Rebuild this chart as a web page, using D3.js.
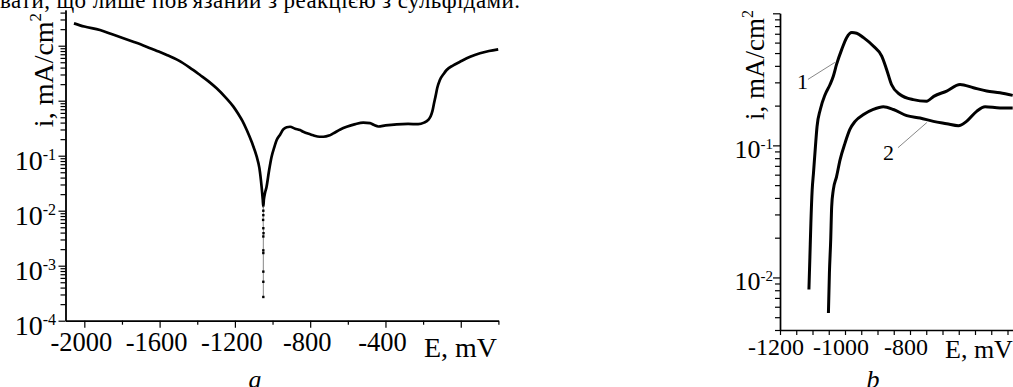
<!DOCTYPE html>
<html>
<head>
<meta charset="utf-8">
<script src="https://cdn.jsdelivr.net/npm/d3@7/dist/d3.min.js"></script>
<style>
  html, body { margin: 0; padding: 0; background: #fff; }
  svg { display: block; }
  text { font-family: "Liberation Serif", "DejaVu Serif", serif; fill: #000; }
</style>
</head>
<body>
<svg id="chart" width="1013" height="387"></svg>
<script>
// Panel a: polarization curve, potential E (mV) vs current density i (mA/cm2)
const curveA_E = [-2055, -2000, -1917, -1860, -1800, -1740, -1680, -1620, -1562, -1500, -1440, -1385, -1340, -1297,
  -1250, -1208, -1180, -1160, -1137, -1110, -1084, -1070, -1058, -1052, -1049, -1046, -1040, -1032, -1018, -1005,
  -990, -978, -960, -943, -925, -907, -880, -854, -837, -800, -784, -750, -730, -700, -677, -640, -606, -560, -518,
  -482, -460, -438, -400, -340, -280, -226, -195, -173, -160, -150, -142, -134, -125, -111, -90, -75, -40, -4, 50, 102, 150, 199];
const curveA_i = [25.5, 22.3, 19.3, 16.5, 14.0, 11.8, 9.9, 8.2, 6.8, 5.4, 4.0, 2.93, 2.25, 1.68,
  1.15, 0.78, 0.56, 0.43, 0.293, 0.175, 0.096, 0.06, 0.027, 0.016, 0.012, 0.016, 0.021, 0.027, 0.055, 0.096,
  0.145, 0.193, 0.24, 0.3, 0.33, 0.336, 0.31, 0.293, 0.273, 0.245, 0.235, 0.221, 0.221, 0.232, 0.255, 0.3, 0.336, 0.375, 0.398,
  0.39, 0.36, 0.34, 0.355, 0.372, 0.378, 0.375, 0.40, 0.446, 0.52, 0.66, 0.9, 1.2, 1.7, 2.38, 3.1, 3.62, 4.4, 5.11, 6.3, 7.28, 8.0, 8.6];
// sparse points measured near the corrosion potential
const dipA_E = [-1049, -1049, -1050, -1049, -1048, -1049, -1049, -1049, -1049, -1049, -1049];
const dipA_i = [0.0100, 0.0083, 0.0068, 0.0048, 0.0039, 0.0034, 0.0019, 0.0017, 7.8e-4, 5.1e-4, 2.7e-4];

// Panel b: curves 1 and 2
const curveB1_E = [-1111, -1108, -1105, -1101, -1097, -1091, -1086, -1076, -1061, -1046, -1036, -1026, -1010, -995,
  -979, -964, -943, -913, -887, -872, -857, -831, -790, -749, -727, -687, -646, -605, -564, -523, -484];
const curveB1_i = [0.0081, 0.0143, 0.0257, 0.046, 0.0617, 0.098, 0.139, 0.187, 0.243, 0.289, 0.334, 0.41, 0.533, 0.654,
  0.714, 0.706, 0.654, 0.565, 0.474, 0.376, 0.289, 0.243, 0.222, 0.216, 0.235, 0.258, 0.289, 0.273, 0.258, 0.25, 0.239];
const curveB2_E = [-1051, -1048, -1044, -1041, -1036, -1026, -1015, -1000, -985, -969, -943, -913, -882, -851,
  -810, -769, -728, -687, -651, -626, -595, -569, -523, -484];
const curveB2_i = [0.00538, 0.0107, 0.0192, 0.0344, 0.046, 0.058, 0.078, 0.104, 0.132, 0.152, 0.171, 0.187, 0.196, 0.187,
  0.168, 0.161, 0.152, 0.146, 0.141, 0.152, 0.181, 0.196, 0.192, 0.192];

// tick labels
const xTicksA = [-2000, -1600, -1200, -800, -400];
const yLabelsA = [1e-1, 1e-2, 1e-3, 1e-4];
const xTicksB = [-1200, -1000, -800];
const yLabelsB = [1e-1, 1e-2];

// curve labels in panel b: [label, textE, textI, lineE0, lineI0, lineE1, lineI1]
const curveLabelsB = [
  ["1", -1114, 0.265, -1114, 0.316, -1031, 0.425],
  ["2", -883, 0.078, -837, 0.096, -748, 0.149]
];

const svg = d3.select("#chart");
svg.append("rect").attr("width", 1013).attr("height", 387).attr("fill", "#fff");

// text line running above the figure
svg.append("text")
  .attr("x", 0).attr("y", 8)
  .attr("font-size", 23)
  .attr("textLength", 520)
  .text("вати, що лише пов'язаний з реакцією з сульфідами.");

function decadeMinors(lo, hi) {
  const out = [];
  for (let e = Math.floor(Math.log10(lo)); e <= Math.ceil(Math.log10(hi)); e++) {
    for (let m = 2; m <= 9; m++) {
      const v = m * Math.pow(10, e);
      if (v >= lo && v <= hi) out.push(v);
    }
  }
  return out;
}
function decades(lo, hi) {
  const out = [];
  for (let e = Math.ceil(Math.log10(lo) - 1e-9); e <= Math.floor(Math.log10(hi) + 1e-9); e++) out.push(Math.pow(10, e));
  return out;
}
function styleAxis(g) {
  g.selectAll("path.domain").attr("stroke", "#000").attr("stroke-width", 1.4);
  g.selectAll(".tick line").attr("stroke", "#000").attr("stroke-width", 1.2);
}
// power-of-ten tick labels: "10" with a raised exponent
function powLabel(g, scale, values, xEnd, size, supSize, dyBase, supRise) {
  values.forEach(v => {
    const t = g.append("text")
      .attr("x", xEnd).attr("y", scale(v) + dyBase)
      .attr("text-anchor", "end")
      .attr("font-size", size);
    t.append("tspan").text("10");
    t.append("tspan").attr("font-size", supSize).attr("dy", -supRise).text(String(Math.round(Math.log10(v))));
  });
}

// ---------- panel a ----------
const xA = d3.scaleLinear().domain([-2100, 200]).range([65.5, 498.4]);
const yA = d3.scaleLog().domain([1e-4, 44.6]).range([320.7, 10]);
const gA = svg.append("g");

const yAminor = gA.append("g").attr("transform", `translate(${xA(-2100)},0)`)
  .call(d3.axisLeft(yA).tickValues(decadeMinors(1e-4, 44.6)).tickSize(5).tickSizeOuter(0).tickFormat(""));
styleAxis(yAminor);
const yAmajor = gA.append("g").attr("transform", `translate(${xA(-2100)},0)`)
  .call(d3.axisLeft(yA).tickValues(decades(1e-4, 44.6)).tickSize(7).tickSizeOuter(0).tickFormat(""));
styleAxis(yAmajor);
powLabel(gA, yA, yLabelsA, 56, 28, 16, 14, 10);

const xAminor = gA.append("g").attr("transform", `translate(0,${yA(1e-4)})`)
  .call(d3.axisBottom(xA).tickValues(d3.range(-1800, 201, 400)).tickSize(4).tickSizeOuter(0).tickFormat(""));
styleAxis(xAminor);
const xAmajor = gA.append("g").attr("transform", `translate(0,${yA(1e-4)})`)
  .call(d3.axisBottom(xA).tickValues(d3.range(-2000, 1, 400)).tickSize(7).tickSizeOuter(0).tickFormat(""));
styleAxis(xAmajor);
xTicksA.forEach(v => {
  gA.append("text").attr("x", xA(v) - 3).attr("y", yA(1e-4) + 30)
    .attr("text-anchor", "middle").attr("font-size", 26.5).text(String(v));
});
gA.append("text").attr("x", 497).attr("y", 356.5).attr("text-anchor", "end")
  .attr("font-size", 28).text("E, mV");
gA.append("text").attr("transform", `translate(53,70) rotate(-90)`)
  .attr("text-anchor", "middle").attr("font-size", 28)
  .call(t => { t.append("tspan").text("i, mA/cm"); t.append("tspan").attr("font-size", 17).attr("dy", -12).text("2"); });

const lineA = d3.line().x(d => xA(d[0])).y(d => yA(d[1])).curve(d3.curveMonotoneX);
const ptsA = curveA_E.map((e, k) => [e, curveA_i[k]]);
gA.append("path").attr("d", lineA(ptsA)).attr("fill", "none").attr("stroke", "#000")
  .attr("stroke-width", 2.7).attr("stroke-linejoin", "round");
const dipPts = dipA_E.map((e, k) => [e, dipA_i[k]]);
gA.append("path").attr("d", d3.line().x(d => xA(d[0])).y(d => yA(d[1]))([[ -1049, 0.012 ], ...dipPts]))
  .attr("fill", "none").attr("stroke", "#777").attr("stroke-width", 0.9);
gA.selectAll("rect.dip").data(dipPts).join("rect").attr("class", "dip")
  .attr("x", d => xA(d[0]) - 1.2).attr("y", d => yA(d[1]) - 1.2)
  .attr("width", 2.4).attr("height", 2.4).attr("fill", "#000");
gA.append("text").attr("x", 255).attr("y", 388).attr("text-anchor", "middle")
  .attr("font-size", 26).attr("font-style", "italic").text("a");

// ---------- panel b ----------
const xB = d3.scaleLinear().domain([-1200, -400]).range([780, 1040]);
const yB = d3.scaleLog().domain([0.004, 1]).range([330, 13.3]);
const gB = svg.append("g");

const yBminor = gB.append("g").attr("transform", `translate(${xB(-1200)},0)`)
  .call(d3.axisLeft(yB).tickValues(decadeMinors(0.004, 1)).tickSize(5).tickSizeOuter(0).tickFormat(""));
styleAxis(yBminor);
const yBmajor = gB.append("g").attr("transform", `translate(${xB(-1200)},0)`)
  .call(d3.axisLeft(yB).tickValues(decades(0.004, 1)).tickSize(7).tickSizeOuter(0).tickFormat(""));
styleAxis(yBmajor);
powLabel(gB, yB, yLabelsB, 773, 26, 15, 13, 9);

const xBax = gB.append("g").attr("transform", `translate(0,${yB(0.004)})`)
  .call(d3.axisBottom(xB).tickValues(d3.range(-1200, -399, 50)).tickSize(5).tickSizeOuter(0).tickFormat(""));
styleAxis(xBax);
xTicksB.forEach(v => {
  gB.append("text").attr("x", xB(v) - 4).attr("y", yB(0.004) + 25)
    .attr("text-anchor", "middle").attr("font-size", 24).text(String(v));
});
gB.append("text").attr("x", 945).attr("y", 357.5).attr("font-size", 26).text("E, mV");
gB.append("text").attr("transform", `translate(764,65) rotate(-90)`)
  .attr("text-anchor", "middle").attr("font-size", 27)
  .call(t => { t.append("tspan").text("i, mA/cm"); t.append("tspan").attr("font-size", 16).attr("dy", -11).text("2"); });

const lineB = d3.line().x(d => xB(d[0])).y(d => yB(d[1])).curve(d3.curveMonotoneX);
[[curveB1_E, curveB1_i], [curveB2_E, curveB2_i]].forEach(([es, is]) => {
  gB.append("path").attr("d", lineB(es.map((e, k) => [e, is[k]])))
    .attr("fill", "none").attr("stroke", "#000").attr("stroke-width", 3).attr("stroke-linejoin", "round");
});
curveLabelsB.forEach(([lab, te, ti, e0, i0, e1, i1]) => {
  gB.append("line").attr("x1", xB(e0)).attr("y1", yB(i0)).attr("x2", xB(e1)).attr("y2", yB(i1))
    .attr("stroke", "#888").attr("stroke-width", 1);
  gB.append("text").attr("x", xB(te)).attr("y", yB(ti))
    .attr("text-anchor", lab === "1" ? "end" : "start").attr("font-size", 22).text(lab);
});
gB.append("text").attr("x", 873).attr("y", 388).attr("text-anchor", "middle")
  .attr("font-size", 26).attr("font-style", "italic").text("b");
</script>
</body>
</html>
